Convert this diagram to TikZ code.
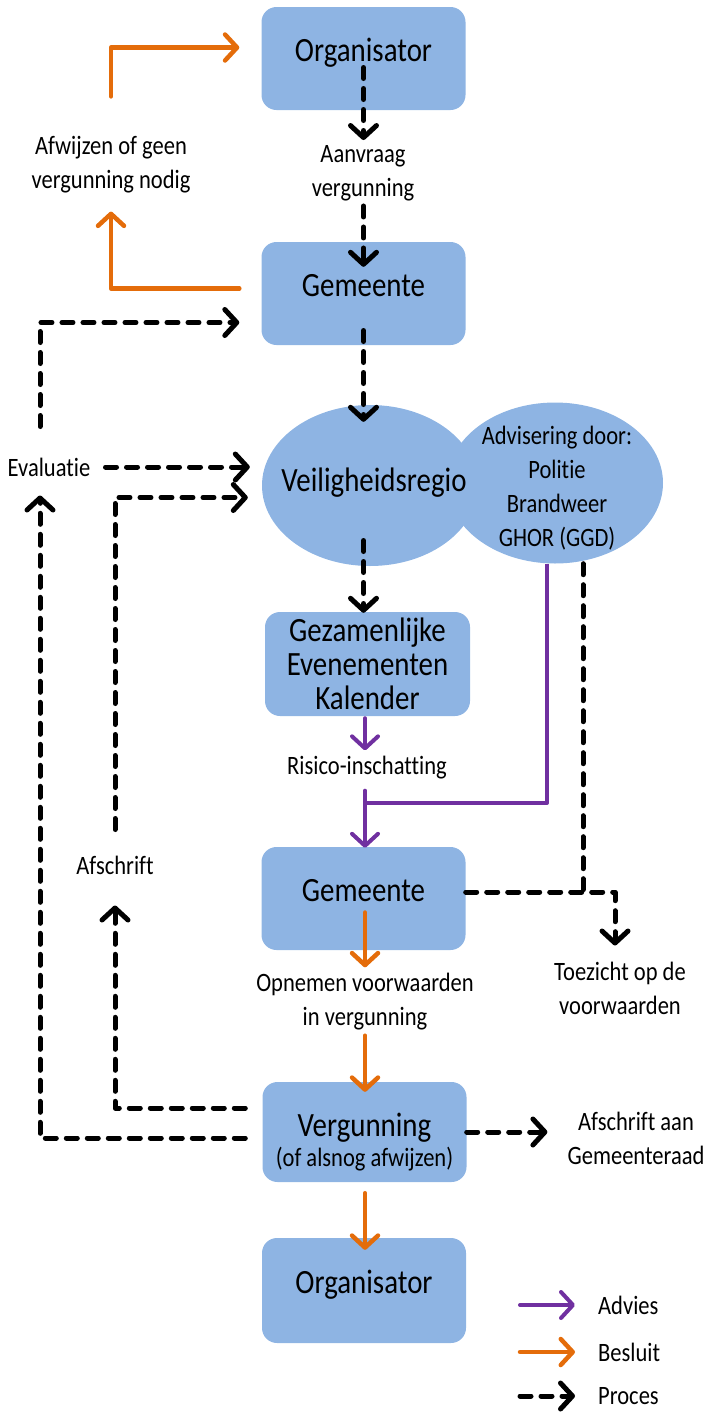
\documentclass[tikz,border=0pt]{standalone}
\usepackage{fontspec}
\setmainfont{Carlito}[FakeStretch=0.85, Ligatures=NoCommon]
\usetikzlibrary{shapes.geometric, arrows.meta}
\definecolor{vakblauw}{RGB}{142,180,227}
\definecolor{oranje}{RGB}{228,108,10}
\definecolor{paars}{RGB}{112,48,160}
\newcommand{\groot}{\fontsize{34}{34}\selectfont}
\newcommand{\middel}{\fontsize{26.5}{34}\selectfont}
\tikzstyle{vak} = [rectangle, rounded corners=15pt, minimum width=204pt, minimum height=103pt, inner sep=0pt, fill=vakblauw, font=\groot, align=center]
\tikzstyle{eenregel} = [text height=22pt, text depth=17pt]
\tikzstyle{bol} = [ellipse, minimum width=216pt, minimum height=161pt, inner sep=0pt, fill=vakblauw]
\tikzstyle{tekst} = [align=center, inner sep=0pt, font=\middel]
\tikzstyle{pijl} = [line cap=round, line join=round, -{Straight Barb[length=12pt,width=26pt,round]}]
\tikzstyle{advies} = [pijl, paars, line width=4pt]
\tikzstyle{besluit} = [pijl, oranje, line width=4.5pt]
\tikzstyle{proceslijn} = [line width=5pt, line cap=round, line join=round, dash pattern=on 11pt off 10pt]
\tikzstyle{proces} = [pijl, proceslijn]

\begin{document}
\begin{tikzpicture}[x=1pt, y=-1pt]
\useasboundingbox (0,0) rectangle (710,1414);
% vakken
\node[vak, eenregel] (org1) at (363.5,58.5) {Organisator};
\node[vak, eenregel] (gem1) at (363.5,293.5) {Gemeente};
\node[bol] (veilig) at (370,485.5) {};
\node[bol] (advies) at (555,483) {};
\node[font=\groot, inner sep=0pt] (veiligtekst) at (374,483) {Veiligheidsregio};
\node[tekst] (adviestekst) at (557,488.5) {Advisering door:\\Politie\\Brandweer\\GHOR (GGD)};
\node[vak, minimum width=205pt, minimum height=104pt] (gek) at (367.5,664) {Gezamenlijke\\Evenementen\\Kalender};
\node[vak, eenregel] (gem2) at (363.5,898.5) {Gemeente};
\node[vak, minimum height=100pt] (verg) at (364.5,1132) {};
\node[font=\groot, align=center, inner sep=0pt] (vergtekst) at (364.5,1142) {Vergunning\\[-4pt]\middel (of alsnog afwijzen)};
\node[vak, eenregel, minimum height=105pt] (org2) at (364,1290.5) {Organisator};
% teksten
\node[tekst] (aanvraag) at (363,173) {Aanvraag\\vergunning};
\node[tekst] (afwijzen) at (111,165) {Afwijzen of geen\\vergunning nodig};
\node[tekst] (evaluatie) at (49,467) {Evaluatie};
\node[tekst] (afschrift) at (115,865) {Afschrift};
\node[tekst] (risico) at (367,768) {Risico-inschatting};
\node[tekst] (opnemen) at (365,1002) {Opnemen voorwaarden\\in vergunning};
\node[tekst] (toezicht) at (620,988) {Toezicht op de\\voorwaarden};
\node[tekst] (raad) at (636,1138) {Afschrift aan\\Gemeenteraad};
\coordinate (samen) at (365,803);
\coordinate (knik) at (583,892);
\coordinate (hoek) at (615,892);
% pijlen
\draw[proces, shorten <=9pt, shorten >=5pt] (org1.center) -- (org1.center |- aanvraag.north);
\draw[proces, shorten <=5pt, shorten >=-25pt] (org1.center |- aanvraag.south) -- (gem1.north);
\draw[besluit, shorten <=22pt, shorten >=18pt] ([yshift=5pt]gem1.west) -| (afwijzen.south);
\draw[besluit, shorten <=40pt, shorten >=22pt] (afwijzen.north) |- ([yshift=11pt]org1.west);
\draw[proces, shorten <=31pt, shorten >=22pt] ([xshift=-9pt]evaluatie.north) |- ([yshift=-29pt]gem1.west);
\draw[proces, shorten <=37pt, shorten >=-17pt] (gem1.center) -- (gem1.center |- veilig.north);
\draw[proces, shorten <=15pt, shorten >=12pt] (evaluatie.east) -- (evaluatie.east -| veilig.west);
\draw[proces, shorten <=26pt, shorten >=14pt] (afschrift.north) |- ([yshift=-12pt]veilig.west);
\draw[proces, shorten <=55pt, shorten >=-1pt] (gem1.center |- veilig.center) -- (gem1.center |- gek.north);
\draw[advies, shorten <=2pt, shorten >=6pt] (samen |- gek.south) -- (samen |- risico.north);
\draw[advies, shorten <=11pt, shorten >=-1pt] (samen |- risico.south) -- (samen |- gem2.north);
\draw[paars, line width=4pt, line join=round] ([xshift=-8pt]advies.south) |- (samen);
\draw[proceslijn] ([xshift=28pt]advies.south) -- (knik);
\draw[proces, shorten >=16pt] ([yshift=6.5pt]gem2.east) -- (hoek) -- (hoek |- toezicht.north);
\draw[besluit, shorten <=14pt, shorten >=6pt] (samen |- gem2.center) -- (samen |- opnemen.north);
\draw[besluit, shorten <=5pt, shorten >=-10pt] (samen |- opnemen.south) -- (samen |- verg.north);
\draw[proces, shorten <=17pt, shorten >=31pt] ([yshift=24pt]verg.west) -| (afschrift.south);
\draw[proces, shorten <=17pt, shorten >=19pt] ([yshift=-6pt]verg.west) -| ([xshift=-9pt]evaluatie.south);
\draw[proces, shorten >=20pt] (verg.east) -- (verg.east -| raad.west);
\draw[besluit, shorten <=11pt, shorten >=-12pt] (samen |- verg.south) -- (samen |- org2.north);
% legenda
\node[tekst, anchor=west] (advieslegenda) at (598,1305) {Advies};
\node[tekst, anchor=west] (besluitlegenda) at (598,1352) {Besluit};
\node[tekst, anchor=west] (proceslegenda) at (598,1396) {Proces};
\draw[advies] ([xshift=-78pt]advieslegenda.west) -- ([xshift=-23pt]advieslegenda.west);
\draw[besluit] ([xshift=-78pt]besluitlegenda.west) -- ([xshift=-23pt]besluitlegenda.west);
\draw[proces] ([xshift=-78pt]proceslegenda.west) -- ([xshift=-23pt]proceslegenda.west);
\end{tikzpicture}
\end{document}
